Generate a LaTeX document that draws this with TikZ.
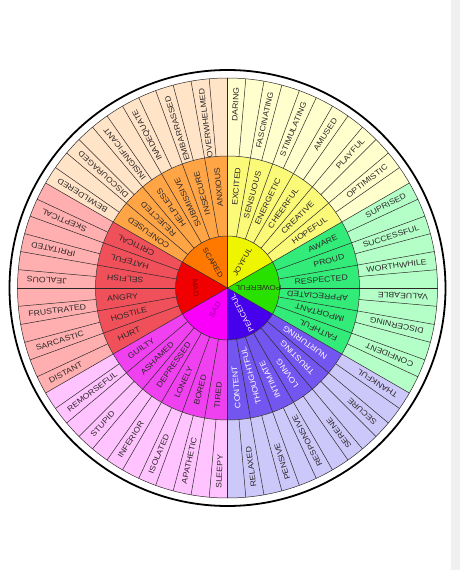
\documentclass[tikz,border=0pt]{standalone}
\usepackage{fontspec}
\newfontfamily\wf[FakeStretch=1.12]{Liberation Sans}
\definecolor{sc1}{RGB}{255,120,0}
\definecolor{sc2}{RGB}{255,165,70}
\definecolor{sc3}{RGB}{255,228,200}
\definecolor{jo1}{RGB}{238,245,0}
\definecolor{jo2}{RGB}{250,250,120}
\definecolor{jo3}{RGB}{255,255,205}
\definecolor{po1}{RGB}{40,225,0}
\definecolor{po2}{RGB}{50,235,120}
\definecolor{po3}{RGB}{180,255,200}
\definecolor{pe1}{RGB}{70,0,235}
\definecolor{pe2}{RGB}{115,85,240}
\definecolor{pe3}{RGB}{205,200,250}
\definecolor{sa1}{RGB}{250,0,250}
\definecolor{sa2}{RGB}{240,65,240}
\definecolor{sa3}{RGB}{255,195,255}
\definecolor{ma1}{RGB}{240,0,0}
\definecolor{ma2}{RGB}{240,80,90}
\definecolor{ma3}{RGB}{255,175,175}
\definecolor{ink}{RGB}{45,40,40}
\newcommand\wheellabel[4]{%
  \pgfmathsetmacro\wm{mod(#1+720,360)}%
  \pgfmathtruncatemacro\wup{(\wm>0 && \wm<180) ? 1 : 0}%
  \ifnum\wup=1
    \node[#4,rotate=#1,anchor=east] at (#1:#2pt) {#3};
  \else
    \pgfmathsetmacro\wr{#1+180}%
    \node[#4,rotate=\wr,anchor=west] at (#1:#2pt) {#3};
  \fi}
\begin{document}
\begin{tikzpicture}[
  cell/.style={draw=ink,line width=0.5pt},
  lab/.style={inner sep=0pt,text=ink,font=\wf\fontsize{7.8}{8}\selectfont},
  wlab/.style={lab,text=white},
  inlab/.style={inner sep=0pt,text=ink,font=\wf\fontsize{7.2}{8}\selectfont}]
\useasboundingbox (-227.5pt,-282pt) rectangle (232.5pt,288pt);
\fill[black!6] (223.5pt,-282pt) rectangle (232.5pt,288pt);
% sectors
\foreach \s/\c in {150/sc,90/jo,30/po,-30/pe,-90/sa,-150/ma}{
  \fill[\c1] (0,0) -- (\s:52pt) arc[start angle=\s,end angle=\s-60,radius=52pt] -- cycle;
  \fill[\c2] (\s:52pt) arc[start angle=\s,end angle=\s-60,radius=52pt] -- (\s-60:132pt) arc[start angle=\s-60,end angle=\s,radius=132pt] -- cycle;
  \fill[\c3] (\s:132pt) arc[start angle=\s,end angle=\s-60,radius=132pt] -- (\s-60:210pt) arc[start angle=\s-60,end angle=\s,radius=210pt] -- cycle;
}
% cell lines
\foreach \a in {0,5,...,355} \draw[cell] (\a:132pt) -- (\a:210pt);
\foreach \a in {0,10,...,350} \draw[cell] (\a:52pt) -- (\a:132pt);
\foreach \a in {30,90,...,330} \draw[cell] (0,0) -- (\a:52pt);
\draw[cell] (0,0) circle[radius=52pt];
\draw[cell] (0,0) circle[radius=132pt];
\draw[cell] (0,0) circle[radius=210pt];
\draw[black,line width=1.8pt] (0,0) circle[radius=218pt];
% outer ring labels
\foreach \a/\t [count=\i] in {
  87.5/DARING,77.5/FASCINATING,67.5/STIMULATING,57.5/AMUSED,47.5/PLAYFUL,37.5/OPTIMISTIC,
  27.5/SUPRISED,17.5/SUCCESSFUL,7.5/WORTHWHILE,-2.5/VALUEABLE,-12.5/DISCERNING,-22.5/CONFIDENT,
  -32.5/THANKFUL,-42.5/SECURE,-52.5/SERENE,-62.5/RESPONSIVE,-72.5/PENSIVE,-82.5/RELAXED,
  267.5/SLEEPY,257.5/APATHETIC,247.5/ISOLATED,237.5/INFERIOR,227.5/STUPID,217.5/REMORSEFUL,
  207.5/DISTANT,197.5/SARCASTIC,187.5/FRUSTRATED,177.5/JEALOUS,167.5/IRRITATED,157.5/SKEPTICAL,
  147.5/BEWILDERED,137.5/DISCOURAGED,127.5/INSIGNIFICANT,117.5/INADEQUATE,107.5/EMBARRASSED,97.5/OVERWHELMED}
  {\wheellabel{\a}{201}{\t}{lab,name=o\i}}
% middle ring labels
\foreach \a/\t [count=\i] in {
  85/EXCITED,75/SENSUOUS,65/ENERGETIC,55/CHEERFUL,45/CREATIVE,35/HOPEFUL,
  25/AWARE,15/PROUD,5/RESPECTED,-5/APPRECIATED,-15/IMPORTANT,-25/FAITHFUL,
  265/TIRED,255/BORED,245/LONELY,235/DEPRESSED,225/ASHAMED,215/GUILTY,
  205/HURT,195/HOSTILE,185/ANGRY,175/SELFISH,165/HATEFUL,155/CRITICAL,
  145/CONFUSED,135/REJECTED,125/HELPLESS,115/SUBMISSIVE,105/INSECURE,95/ANXIOUS}
  {\wheellabel{\a}{121}{\t}{lab,name=m\i}}
\foreach \a/\t [count=\i] in {
  -35/NURTURING,-45/TRUSTING,-55/LOVING,-65/INTIMATE,-75/THOUGHTFUL,-85/CONTENT}
  {\wheellabel{\a}{121}{\t}{wlab,name=p\i}}
% inner labels
\node[inlab,rotate=60] (joyful) at (60:30pt) {JOYFUL};
\node[inlab,rotate=180] (powerful) at (0:31pt) {POWERFUL};
\node[inlab,rotate=118,text=white] (peaceful) at (-60:29pt) {PEACEFUL};
\node[inlab,rotate=60,text={rgb,255:red,160;green,0;blue,160}] (sad) at (240:25pt) {SAD};
\node[inlab,rotate=-85,text={rgb,255:red,140;green,0;blue,0}] (mad) at (180:32pt) {MAD};
\node[inlab,rotate=-60] (scared) at (120:29pt) {SCARED};
\end{tikzpicture}
\end{document}
